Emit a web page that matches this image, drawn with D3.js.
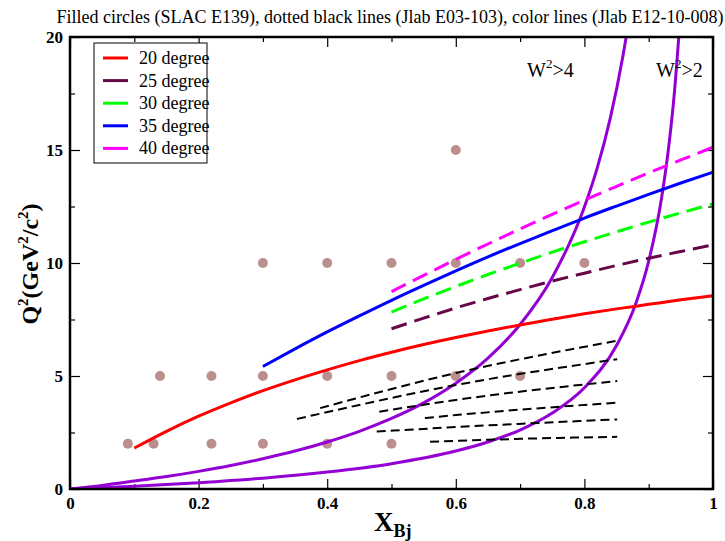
<!DOCTYPE html>
<html lang="en">
<head>
<meta charset="utf-8">
<title>Q2 vs x kinematic coverage</title>
<script src="https://cdnjs.cloudflare.com/ajax/libs/d3/7.8.5/d3.min.js"></script>
<style>
  body { margin: 0; background: #fff; }
  svg text { font-family: "Liberation Serif", "Times New Roman", serif; fill: #000; }
  .tick text { font-weight: bold; font-size: 17px; }
</style>
</head>
<body>
<script>
// SLAC E139 points
const slacX  = [0.09, 0.13, 0.22, 0.3, 0.4, 0.5,
                0.14, 0.22, 0.3, 0.4, 0.5, 0.6, 0.7,
                0.3, 0.4, 0.5, 0.6, 0.7, 0.8,
                0.6];
const slacQ2 = [2, 2, 2, 2, 2, 2,
                5, 5, 5, 5, 5, 5, 5,
                10, 10, 10, 10, 10, 10,
                15];

// Jlab E12-10-008 fixed angle lines
const x20  = [0.1, 0.15, 0.2, 0.25, 0.3, 0.35, 0.4, 0.45, 0.5, 0.55, 0.6, 0.65, 0.7, 0.75, 0.8, 0.85, 0.9, 0.95, 1.0];
const q20  = [1.81, 2.55, 3.22, 3.81, 4.35, 4.83, 5.27, 5.68, 6.05, 6.39, 6.70, 6.99, 7.26, 7.51, 7.75, 7.97, 8.17, 8.37, 8.55];
const xHi  = [0.5, 0.55, 0.6, 0.65, 0.7, 0.75, 0.8, 0.85, 0.9, 0.95, 1.0];
const q25  = [7.09, 7.56, 8.01, 8.43, 8.82, 9.20, 9.55, 9.89, 10.21, 10.51, 10.80];
const q30  = [7.83, 8.41, 8.96, 9.49, 9.99, 10.48, 10.94, 11.38, 11.81, 12.22, 12.61];
const x35  = [0.3, 0.35, 0.4, 0.45, 0.5, 0.55, 0.6, 0.65, 0.7, 0.75, 0.8, 0.85, 0.9, 0.95, 1.0];
const q35  = [5.42, 6.20, 6.95, 7.66, 8.35, 9.01, 9.65, 10.27, 10.86, 11.43, 11.99, 12.52, 13.04, 13.54, 14.02];
const q40  = [8.73, 9.45, 10.16, 10.84, 11.51, 12.15, 12.78, 13.39, 13.99, 14.56, 15.12];

// Jlab E03-103 lines (start, middle, end)
const e03X  = [[0.389, 0.6, 0.851], [0.353, 0.6, 0.851], [0.481, 0.6, 0.851],
               [0.552, 0.6, 0.851], [0.477, 0.6, 0.851], [0.560, 0.7, 0.851]];
const e03Q2 = [[3.58, 5.13, 6.56], [3.10, 4.60, 5.74], [3.42, 3.94, 4.78],
               [3.14, 3.27, 3.82], [2.54, 2.74, 3.08], [2.09, 2.22, 2.31]];

// W2 limits
const w4X  = [0, 0.05, 0.1, 0.15, 0.2, 0.25, 0.3, 0.35, 0.4, 0.45, 0.5, 0.55, 0.6, 0.65, 0.7, 0.75, 0.8, 0.82, 0.84, 0.86, 0.87];
const w4Q2 = [0, 0.16, 0.35, 0.55, 0.78, 1.04, 1.34, 1.68, 2.08, 2.55, 3.12, 3.81, 4.68, 5.79, 7.28, 9.36, 12.48, 14.21, 16.38, 19.17, 20.88];
const w2X  = [0, 0.1, 0.2, 0.3, 0.4, 0.5, 0.6, 0.65, 0.7, 0.75, 0.8, 0.85, 0.88, 0.9, 0.92, 0.93, 0.94, 0.95];
const w2Q2 = [0, 0.12, 0.28, 0.48, 0.75, 1.12, 1.68, 2.08, 2.61, 3.36, 4.48, 6.35, 8.21, 10.08, 12.88, 14.88, 17.55, 21.28];

const legendNames  = ["20 degree", "25 degree", "30 degree", "35 degree", "40 degree"];
const legendColors = ["#ff0000", "#670748", "#00ff00", "#0000ff", "#ff00ff"];

const xTicks = [0, 0.2, 0.4, 0.6, 0.8, 1];
const xMinor = [0.1, 0.3, 0.5, 0.7, 0.9];
const yTicks = [0, 5, 10, 15, 20];
const yMinor = [2.5, 7.5, 12.5, 17.5];

const W = 725, H = 541;
const pLeft = 70, pRight = 713, pTop = 37, pBottom = 489;

const svg = d3.select("body").append("svg")
  .attr("width", W).attr("height", H);

const x = d3.scaleLinear().domain([0, 1]).range([pLeft, pRight]);
const y = d3.scaleLinear().domain([0, 20]).range([pBottom, pTop]);

svg.append("clipPath").attr("id", "plotclip")
  .append("rect")
  .attr("x", pLeft).attr("y", pTop)
  .attr("width", pRight - pLeft).attr("height", pBottom - pTop);

// axes, ticks pointing inward
function axisG(axis, tx, ty) {
  const g = svg.append("g").attr("transform", `translate(${tx},${ty})`).call(axis);
  g.select(".domain").remove();
  g.selectAll(".tick line").attr("stroke", "#000").attr("stroke-width", 1.2);
  return g;
}
axisG(d3.axisBottom(x).tickValues(xTicks).tickSize(-10).tickPadding(8).tickFormat(d3.format("~g")), 0, pBottom);
axisG(d3.axisBottom(x).tickValues(xMinor).tickSize(-5).tickFormat(""), 0, pBottom);
axisG(d3.axisTop(x).tickValues(xTicks).tickSize(-10).tickFormat(""), 0, pTop);
axisG(d3.axisTop(x).tickValues(xMinor).tickSize(-5).tickFormat(""), 0, pTop);
axisG(d3.axisLeft(y).tickValues(yTicks).tickSize(-10).tickPadding(7), pLeft, 0);
axisG(d3.axisLeft(y).tickValues(yMinor).tickSize(-5).tickFormat(""), pLeft, 0);
axisG(d3.axisRight(y).tickValues(yTicks).tickSize(-10).tickFormat(""), pRight, 0);
axisG(d3.axisRight(y).tickValues(yMinor).tickSize(-5).tickFormat(""), pRight, 0);

const plot = svg.append("g").attr("clip-path", "url(#plotclip)");

// SLAC points
plot.selectAll("circle.slac")
  .data(slacX)
  .enter()
  .append("circle")
  .attr("class", "slac")
  .attr("cx", d => x(d))
  .attr("cy", (d, i) => y(slacQ2[i]))
  .attr("r", 5)
  .attr("fill", "#bc8f8f");

const line = d3.line().x(d => x(d[0])).y(d => y(d[1])).curve(d3.curveMonotoneX);
const zip = (a, b) => a.map((v, i) => [v, b[i]]);

// W2 curves
[[w4X, w4Q2], [w2X, w2Q2]].forEach(c => {
  plot.append("path")
    .attr("d", line(zip(c[0], c[1])))
    .attr("fill", "none")
    .attr("stroke", "#9400d3")
    .attr("stroke-width", 3);
});

// E03-103 dashed black
e03X.forEach((xs, i) => {
  plot.append("path")
    .attr("d", line(zip(xs, e03Q2[i])))
    .attr("fill", "none")
    .attr("stroke", "#000")
    .attr("stroke-width", 2)
    .attr("stroke-dasharray", "9,5");
});

// E12-10-008 angle lines
const angleLines = [
  { xs: x20, qs: q20, c: legendColors[0], dash: null },
  { xs: xHi, qs: q25, c: legendColors[1], dash: "16,8" },
  { xs: xHi, qs: q30, c: legendColors[2], dash: "16,8" },
  { xs: x35, qs: q35, c: legendColors[3], dash: null },
  { xs: xHi, qs: q40, c: legendColors[4], dash: "16,8" }
];
angleLines.forEach(l => {
  plot.append("path")
    .attr("d", line(zip(l.xs, l.qs)))
    .attr("fill", "none")
    .attr("stroke", l.c)
    .attr("stroke-width", 3)
    .attr("stroke-dasharray", l.dash);
});

// frame
svg.append("rect")
  .attr("x", pLeft).attr("y", pTop)
  .attr("width", pRight - pLeft).attr("height", pBottom - pTop)
  .attr("fill", "none").attr("stroke", "#000").attr("stroke-width", 2.5);

// legend
const lg = svg.append("g");
lg.append("rect")
  .attr("x", 94).attr("y", 43).attr("width", 113).attr("height", 120)
  .attr("fill", "#fff").attr("stroke", "#000").attr("stroke-width", 1);
legendNames.forEach((n, i) => {
  const yy = 58 + i * 22.6;
  lg.append("line")
    .attr("x1", 103).attr("x2", 128).attr("y1", yy).attr("y2", yy)
    .attr("stroke", legendColors[i]).attr("stroke-width", 3);
  lg.append("text")
    .attr("x", 139).attr("y", yy + 6)
    .attr("font-size", "18px")
    .text(n);
});

// W2 labels
function wLabel(tx, val) {
  const t = svg.append("text").attr("x", tx).attr("y", 77).attr("font-size", "20px");
  t.append("tspan").text("W");
  t.append("tspan").attr("font-size", "13px").attr("dy", -9).text("2");
  t.append("tspan").attr("dy", 9).text(">" + val);
}
wLabel(527, "4");
wLabel(656, "2");

// title
svg.append("text")
  .attr("x", 390).attr("y", 23)
  .attr("text-anchor", "middle")
  .attr("font-size", "18px")
  .text("Filled circles (SLAC E139), dotted black lines (Jlab E03-103), color lines (Jlab E12-10-008)");

// x label
const xl = svg.append("text")
  .attr("x", 374).attr("y", 531)
  .attr("font-size", "27px").attr("font-weight", "bold");
xl.append("tspan").text("X");
xl.append("tspan").attr("font-size", "18px").attr("dy", 6).text("Bj");

// y label
const yl = svg.append("text")
  .attr("transform", "translate(38,264) rotate(-90)")
  .attr("text-anchor", "middle")
  .attr("font-size", "24px").attr("font-weight", "bold");
yl.append("tspan").text("Q");
yl.append("tspan").attr("font-size", "15px").attr("dy", -10).text("2");
yl.append("tspan").attr("dy", 10).text("(GeV");
yl.append("tspan").attr("font-size", "15px").attr("dy", -10).text("2");
yl.append("tspan").attr("dy", 10).text("/c");
yl.append("tspan").attr("font-size", "15px").attr("dy", -10).text("2");
yl.append("tspan").attr("dy", 10).text(")");
</script>
</body>
</html>
